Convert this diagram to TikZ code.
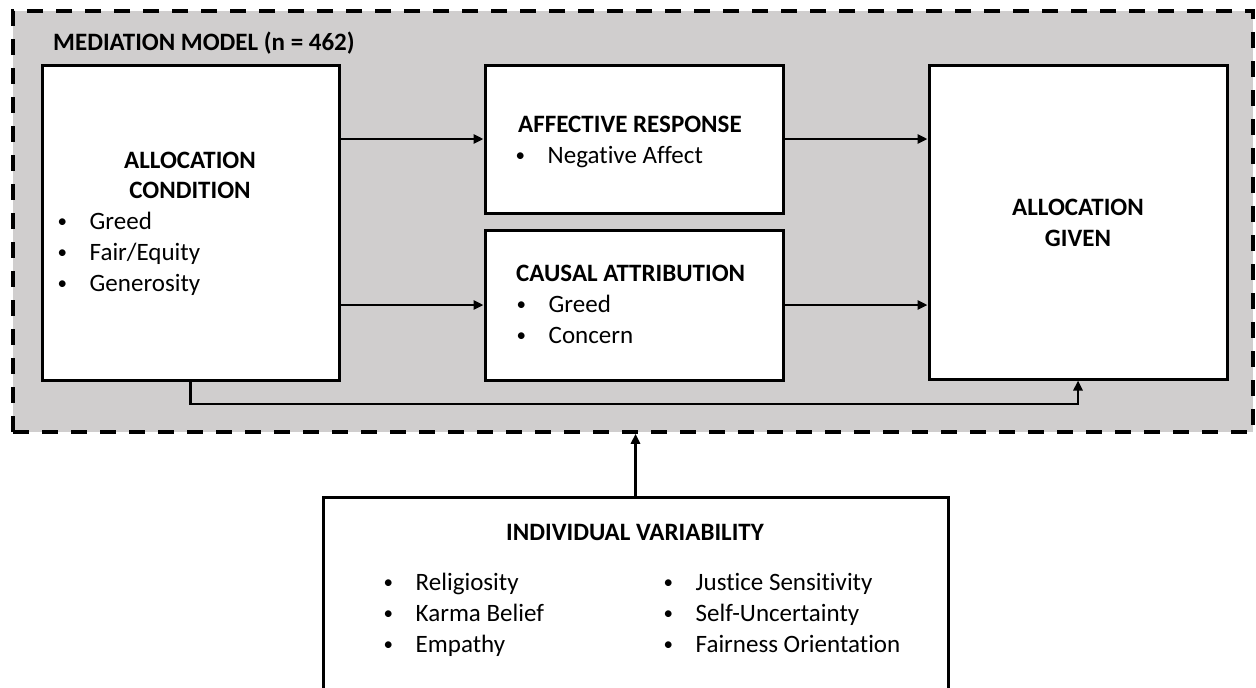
\documentclass[tikz,border=0pt]{standalone}
\usepackage{fontspec}
\setmainfont{Carlito}[Ligatures=NoCommon]
\usetikzlibrary{arrows.meta}
\definecolor{panelgray}{HTML}{D0CECE}
\tikzset{
  box/.style={draw=black, line width=3pt, fill=white, inner sep=0pt},
  hdr/.style={anchor=base, inner sep=0pt, font=\fontsize{25}{31}\selectfont\bfseries},
  hdrw/.style={anchor=base west, inner sep=0pt, font=\fontsize{25}{31}\selectfont\bfseries},
  lst/.style={anchor=base west, inner sep=0pt, font=\fontsize{25}{31}\selectfont},
  conn/.style={line width=2.8pt, -{Triangle[length=10pt,width=9pt]}},
}
\newcommand{\bul}{\makebox[12.5pt]{\raisebox{2pt}{\fontsize{19}{19}\selectfont\textbullet}}}
\newcommand{\blist}[1]{\begin{tabular}[t]{@{}l@{\hspace{21pt}}l@{}}#1\end{tabular}}
\begin{document}
\begin{tikzpicture}[x=1pt,y=-1pt]
\useasboundingbox (0,0) rectangle (1256,688);
% outer mediation panel
\node[draw=black, line width=3.5pt, dash pattern=on 16pt off 13pt, fill=panelgray,
      minimum width=1240pt, minimum height=421pt, inner sep=0pt] (med) at (633,221.5) {};
\node[hdrw] (medtitle) at (53,50) {MEDIATION MODEL (n = 462)};
% boxes
\node[box, minimum width=297pt, minimum height=315pt] (A) at (190.5,222.5) {};
\node[box, minimum width=298pt, minimum height=148pt] (B) at (634,139) {};
\node[box, minimum width=298pt, minimum height=150pt] (C) at (634,305) {};
\node[box, minimum width=298pt, minimum height=314pt] (D) at (1078,222) {};
\node[box, minimum width=625pt, minimum height=230pt] (E) at (635.5,612) {};
% texts
\node[hdr] (Ah1) at (190,168) {ALLOCATION};
\node[hdr] (Ah2) at (190,198.5) {CONDITION};
\node[lst] (Al) at (56,229) {\blist{\bul & Greed\\ \bul & Fair/Equity\\ \bul & Generosity}};
\node[hdrw] (Bh) at (518,132) {AFFECTIVE RESPONSE};
\node[lst] (Bl) at (514,163.5) {\blist{\bul & Negative Affect}};
\node[hdrw] (Ch) at (516,281) {CAUSAL ATTRIBUTION};
\node[lst] (Cl) at (515,312) {\blist{\bul & Greed\\ \bul & Concern}};
\node[hdr] (Dh1) at (1078,215) {ALLOCATION};
\node[hdr] (Dh2) at (1078,246) {GIVEN};
\node[hdr] (Eh) at (635,540) {INDIVIDUAL VARIABILITY};
\node[lst] (El) at (382,590) {\blist{\bul & Religiosity\\ \bul & Karma Belief\\ \bul & Empathy}};
\node[lst] (Er) at (662,590) {\blist{\bul & Justice Sensitivity\\ \bul & Self-Uncertainty\\ \bul & Fairness Orientation}};
% connectors
\draw[conn] (A.east |- B) -- (B.west);
\draw[conn] (A.east |- C) -- (C.west);
\draw[conn] (B.east) -- (B.east -| D.west);
\draw[conn] (C.east) -- (C.east -| D.west);
\coordinate (dl) at (190.5,404);
\draw[conn] (A.south) -- (dl) -- (dl -| D.south) -- (D.south);
\draw[conn] (E.north) -- (E.north |- med.south);
\end{tikzpicture}
\end{document}
